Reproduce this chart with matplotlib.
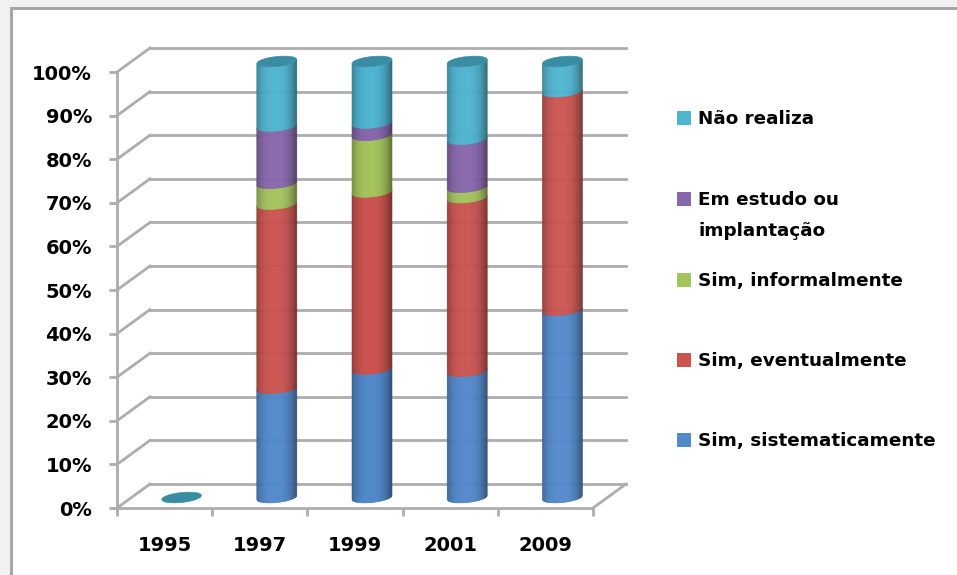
import numpy as np
import matplotlib
matplotlib.use("Agg")
import matplotlib.pyplot as plt
from matplotlib.patches import Rectangle
from matplotlib.transforms import Affine2D

W, H = 957, 575

years = ["1995", "1997", "1999", "2001", "2009"]
sistematicamente = [0, 25.1, 29.5, 29.0, 43.0]
eventualmente = [0, 42.2, 40.6, 39.8, 50.1]
informalmente = [0, 4.8, 13.0, 2.4, 0]
em_estudo = [0, 13.1, 2.8, 11.0, 0]
nao_realiza = [0, 14.8, 14.1, 17.8, 6.9]

series = [sistematicamente, eventualmente, informalmente, em_estudo, nao_realiza]
colors = ["#5289CB", "#CB5450", "#A3C45E", "#8868AC", "#4FB4D0"]
ellipse_color = "#3A8CA3"
grid_color = "#ADADAD"
labels = ["Sim, sistematicamente", "Sim, eventualmente", "Sim, informalmente",
          "Em estudo ou\nimplantação", "Não realiza"]
legend_order = [4, 3, 2, 1, 0]
legend_y = [118, 199, 280, 360, 440]

plt.rcParams["font.family"] = "DejaVu Sans"
plt.rcParams["font.weight"] = "bold"

fig = plt.figure(figsize=(W / 100, H / 100), dpi=100, facecolor="white")


def px_rect(x0, y0, x1, y1):
    # pixel box, y counted from the top, to figure fractions
    return [x0 / W, 1 - y1 / H, (x1 - x0) / W, (y1 - y0) / H]


# outer frame of the screenshot
for x0, y0, x1, y1, c in [(0, 0, W, 7, "#F1F1F1"), (0, 0, 10, H, "#F1F1F1"),
                          (10, 7, W, 10, "#A6A6A6"), (10, 7, 13, H, "#A6A6A6")]:
    fig.add_artist(Rectangle((x0 / W, 1 - y1 / H), (x1 - x0) / W, (y1 - y0) / H,
                             transform=fig.transFigure, color=c, lw=0))

# the axes are the front plane of the 3D box
ax = fig.add_axes(px_rect(117, 72, 593, 508))
ax.patch.set_alpha(0)
ax.set_xlim(-0.5, 4.5)
ax.set_ylim(0, 100)
for s in ["top", "right"]:
    ax.spines[s].set_visible(False)
for s in ["left", "bottom"]:
    ax.spines[s].set_color(grid_color)
    ax.spines[s].set_linewidth(2)

ax.set_yticks(range(0, 101, 10))
ax.set_yticklabels([f"{v}%" for v in range(0, 101, 10)])
ax.set_xticks(np.arange(-0.5, 5))
ax.set_xticklabels([])
ax.set_xticks(range(5), years, minor=True)
ax.tick_params(axis="both", which="major", color=grid_color, width=2, length=6)
ax.tick_params(axis="y", labelsize=14, pad=12)
ax.tick_params(axis="x", which="minor", length=0, labelsize=14, pad=20)

to_back = Affine2D().translate(33, 24)
to_mid = Affine2D().translate(16.5, 11)
tr_back = ax.transData + to_back
tr_mid = ax.transData + to_mid

# back wall lines and the slanted side wall
for v in range(0, 101, 10):
    ax.plot([-0.5, 4.5], [v, v], color=grid_color, lw=2, transform=tr_back,
            clip_on=False, zorder=1)
    p0 = ax.transData.transform((-0.5, v))
    xs, ys = fig.transFigure.inverted().transform([p0, p0 + [33, 24]]).T
    fig.add_artist(plt.Line2D(xs, ys, color=grid_color, lw=2, zorder=1))
p0 = ax.transData.transform((4.5, 0))
xs, ys = fig.transFigure.inverted().transform([p0, p0 + [33, 24]]).T
fig.add_artist(plt.Line2D(xs, ys, color=grid_color, lw=2, zorder=1))

# cylinder sizes in axis units
sx = 5 / 476
sy = 100 / 436
half_w = 20 * sx
half_h = 5 * sy
tilt = 0.1 * sy / sx


def arc(x, centre, v, sign):
    u = np.clip((x - centre) / half_w, -1, 1)
    return v + tilt * (x - centre) + sign * half_h * np.sqrt(1 - u ** 2)


def shade(color, u):
    # u goes -1..1 across the cylinder: darker at both edges, more on the right
    rgb = np.array(matplotlib.colors.to_rgb(color))
    k = 1 - 0.28 * abs(min(u, 0)) ** 3 - 0.42 * max(u, 0) ** 2.5
    return rgb * k


for i in range(len(years)):
    edges = np.linspace(i - half_w, i + half_w, 41)
    bottom = 0
    for vals, color in zip(series, colors):
        top = bottom + vals[i]
        if vals[i] > 0:
            for a, b in zip(edges[:-1], edges[1:]):
                xx = np.linspace(a, b, 3)
                c = shade(color, ((a + b) / 2 - i) / half_w)
                ax.fill_between(xx, arc(xx, i, bottom, -1), arc(xx, i, top, -1),
                                color=c, lw=0.4, transform=tr_mid, clip_on=False, zorder=3)
        bottom = top
    # top cap (a flat disc for the empty 1995 column)
    xx = np.linspace(i - half_w, i + half_w, 60)
    ax.fill_between(xx, arc(xx, i, bottom, -1), arc(xx, i, bottom, 1),
                    color=ellipse_color, lw=0.4, transform=tr_mid, clip_on=False, zorder=4)

# legend
for idx, y in zip(legend_order, legend_y):
    fig.add_artist(Rectangle((677 / W, 1 - (y + 7) / H), 14 / W, 14 / H,
                             transform=fig.transFigure, color=colors[idx], lw=0))
    fig.text(698 / W, 1 - (y - 8) / H, labels[idx], fontsize=13.2, va="top", ha="left",
             linespacing=1.9, color="black")

fig.savefig("out.png", dpi=100)
